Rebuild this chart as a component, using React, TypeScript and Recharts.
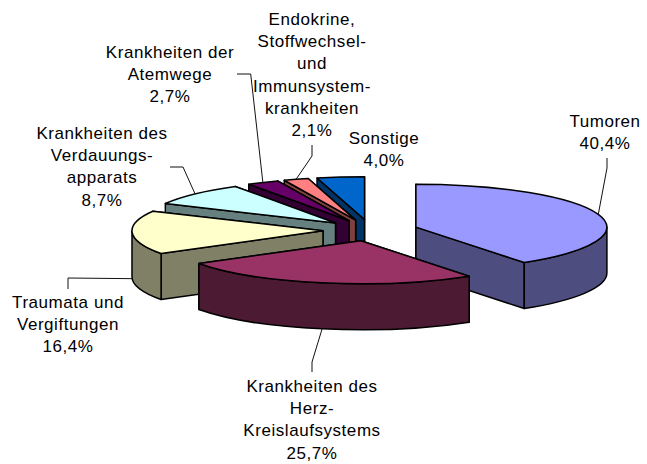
import { PieChart, Pie } from 'recharts';

// listed in painting order (back to front), going counter-clockwise from Tumoren,
// so that Krankheiten des Herz-Kreislaufsystems ends up on top
const categories = ['Tumoren', 'Sonstige', 'Endokrine', 'Atemwege', 'Verdauung', 'Traumata', 'Kreislauf'];
const shares = [40.4, 4.0, 2.1, 2.7, 8.7, 16.4, 25.7];
const sliceColors = ['#9999ff', '#0066cc', '#ff8080', '#660066', '#ccffff', '#ffffcc', '#993366'];
const labelLines = [
  ['Tumoren'],
  ['Sonstige'],
  ['Endokrine,', 'Stoffwechsel-', 'und', 'Immunsystem-', 'krankheiten'],
  ['Krankheiten der', 'Atemwege'],
  ['Krankheiten des', 'Verdauungs-', 'apparats'],
  ['Traumata und', 'Vergiftungen'],
  ['Krankheiten des', 'Herz-', 'Kreislaufsystems'],
];

// label block: centre x, y of first line; then leader bends from the slice to the label
const labelAnchors = [
  [605, 121],
  [384, 138],
  [312, 19],
  [170, 52],
  [102, 133],
  [68, 302],
  [312, 386],
];
const leaderBends: number[][][] = [
  [[607, 168], [607, 158]],
  [],
  [[312, 156], [312, 145]],
  [[250.7, 74], [237, 74]],
  [[183, 167], [170, 167]],
  [[68, 278], [68, 289]],
  [[312, 362], [312, 372]],
];

const tableData = categories.map((name, i) => ({ name, value: shares[i], fill: sliceColors[i] }));

const WIDTH = 647;
const HEIGHT = 464;
const SQUASH = 0.225; // ellipse ry / rx
const DEPTH = 46;
const EXPLODE = 0.249;
const LINE_HEIGHT = 22.2;
const rad = (deg: number) => (deg * Math.PI) / 180;

// 12 o'clock is the start of Tumoren, so its far edge sits at 90deg minus its share
const START_ANGLE = 90 - shares[0] * 3.6;

const halfColor = (hex: string) => {
  const n = parseInt(hex.slice(1), 16);
  const half = (v: number) => Math.round(v / 2).toString(16).padStart(2, '0');
  return `#${half((n >> 16) & 255)}${half((n >> 8) & 255)}${half(n & 255)}`;
};

const apexOf = (cx: number, cy: number, r: number, mid: number) => ({
  x: cx + r * EXPLODE * Math.cos(rad(mid)),
  y: cy - r * EXPLODE * SQUASH * Math.sin(rad(mid)),
});

function Slice3D(props: any) {
  const { cx, cy, outerRadius: r, startAngle: a0, endAngle: a1, fill } = props;
  const mid = (a0 + a1) / 2;
  const apex = apexOf(cx, cy, r, mid);
  const rx = r;
  const ry = r * SQUASH;
  const pt = (a: number) => ({ x: apex.x + rx * Math.cos(rad(a)), y: apex.y - ry * Math.sin(rad(a)) });
  const side = halfColor(fill);
  const line = { stroke: '#000', strokeWidth: 1.5, strokeLinejoin: 'round' as const };

  const p0 = pt(a0);
  const p1 = pt(a1);
  const large = a1 - a0 > 180 ? 1 : 0;
  const top = `M${apex.x},${apex.y}L${p0.x},${p0.y}A${rx},${ry} 0 ${large} 0 ${p1.x},${p1.y}Z`;

  const radialWall = (p: { x: number; y: number }) =>
    `M${apex.x},${apex.y}L${p.x},${p.y}V${p.y + DEPTH}L${apex.x},${apex.y + DEPTH}Z`;
  const walls = [p0, p1].sort((u, v) => u.y - v.y);

  // outer wall only where the rim faces the viewer
  const outer: string[] = [];
  [[-180, 0], [180, 360]].forEach(([lo, hi]) => {
    const from = Math.max(a0, lo);
    const to = Math.min(a1, hi);
    if (to > from) {
      const u = pt(from);
      const v = pt(to);
      outer.push(
        `M${u.x},${u.y}A${rx},${ry} 0 0 0 ${v.x},${v.y}V${v.y + DEPTH}A${rx},${ry} 0 0 1 ${u.x},${u.y + DEPTH}Z`
      );
    }
  });

  return (
    <g>
      {walls.map((p, i) => (
        <path key={i} d={radialWall(p)} fill={side} {...line} />
      ))}
      {outer.map((d, i) => (
        <path key={i} d={d} fill={side} {...line} />
      ))}
      <path d={top} fill={fill} {...line} />
    </g>
  );
}

function SliceLabel(props: any) {
  const { cx, cy, outerRadius: r, midAngle, index } = props;
  const apex = apexOf(cx, cy, r, midAngle);
  const sin = Math.sin(rad(midAngle));
  const rimX = apex.x + r * Math.cos(rad(midAngle));
  const rimY = apex.y - r * SQUASH * sin + (sin < 0 ? DEPTH : 0);
  const bends = leaderBends[index];
  const [tx, ty] = labelAnchors[index];
  const lines = [...labelLines[index], `${shares[index].toFixed(1).replace('.', ',')}%`];
  return (
    <g>
      {bends.length > 0 && (
        <polyline
          points={[[rimX, rimY], ...bends].map((p) => p.join(',')).join(' ')}
          fill="none"
          stroke="#111"
          strokeWidth={1}
        />
      )}
      <text
        textAnchor="middle"
        fontFamily="'Liberation Sans', Arial, sans-serif"
        fontSize={17}
        letterSpacing={0.55}
        fill="#000"
      >
        {lines.map((t, i) => (
          <tspan key={i} x={tx} y={ty + i * LINE_HEIGHT} dy="0.35em">
            {t}
          </tspan>
        ))}
      </text>
    </g>
  );
}

export default function App() {
  return (
    <div style={{ position: 'absolute', left: 0, top: 0, width: WIDTH, height: HEIGHT, background: '#fff' }}>
      <PieChart width={WIDTH} height={HEIGHT} margin={{ top: 0, right: 0, bottom: 0, left: 0 }}>
        <Pie
          data={tableData}
          dataKey="value"
          nameKey="name"
          cx={370.5}
          cy={230.3}
          innerRadius={0}
          outerRadius={191}
          startAngle={START_ANGLE}
          endAngle={START_ANGLE + 360}
          isAnimationActive={false}
          shape={Slice3D}
          label={SliceLabel}
          labelLine={false}
        />
      </PieChart>
    </div>
  );
}
